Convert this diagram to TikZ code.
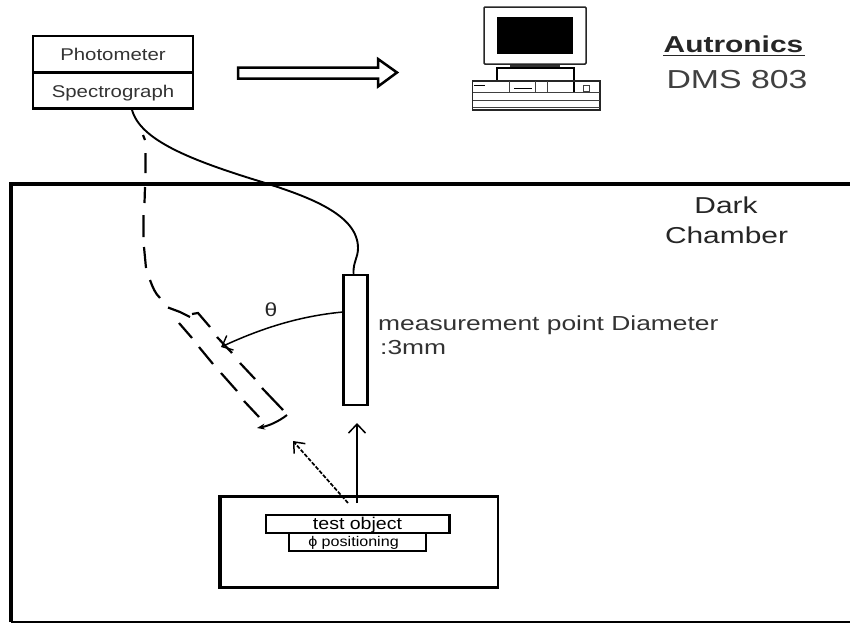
\documentclass[tikz,border=0pt]{standalone}
\usepackage{fontspec}
\setmainfont{Liberation Sans}
\newfontfamily\wideA[FakeStretch=1.2]{Liberation Sans}
\newfontfamily\wideB[FakeStretch=1.3]{Liberation Sans}
\newfontfamily\wideC[FakeStretch=1.15]{Liberation Sans}
\usetikzlibrary{arrows.meta}
\tikzset{
 unitbox/.style={draw,line width=2.5pt,fill=white,minimum width=160pt,minimum height=36pt,inner sep=0pt,text height=14.5pt,text depth=1.5pt,font=\wideA\fontsize{17}{18}\selectfont,text=black!80},
 cable/.style={line width=1.9pt},
 ghost/.style={line width=2.2pt},
 lbl/.style={inner sep=0pt,text=black!85},
 pc/.style={line width=.8pt,black!75},
 pointer/.style={line width=1.5pt,-{Straight Barb[length=9pt,width=16pt,line width=1.4pt]}}
}
\begin{document}
\begin{tikzpicture}[x=1pt,y=-1pt]
\useasboundingbox (0,0) rectangle (850,624);
\fill[white] (0,0) rectangle (850,624);
% chamber
\draw[line width=4.4pt] (11,622) -- (11,184) -- (850,184);
\draw[line width=2.6pt] (11,622) -- (850,622);
% instrument
\node[unitbox] (photo) at (113,54) {Photometer};
\node[unitbox] (spec) at (113,90.5) {Spectrograph};
% hollow arrow
\draw[line width=2.5pt,fill=white,line join=miter] (238,67.5) -- (378,67.5) -- (378,59) -- (397,72.5) -- (378,86.5) -- (378,78.5) -- (238,78.5) -- cycle;
% computer
\draw[line width=1.5pt,rounded corners=1pt,black!85] (484,7) rectangle (586,64);
\fill (497,17) rectangle (573,54);
\draw[line width=1.5pt] (497,81) -- (497,68) -- (574,68) -- (574,92);
\draw[line width=2.4pt,black!80] (510,66) -- (560,66);
\draw[line width=1.5pt,black!85] (472.5,81) rectangle (600,110);
\draw[pc] (473,92) -- (600,92) (473,100) -- (600,100) (473,107) -- (600,107);
\draw[pc] (509,81) -- (509,92) (535,81) -- (535,92) (547,81) -- (547,92);
\draw[line width=1pt] (514,88) -- (532,88);
\draw[pc] (583,85) rectangle (589,91);
\draw[line width=1pt] (474,85) -- (485,85);
% brand
\node[lbl,anchor=base] (brand) at (733.5,52) {\wideB\fontsize{23}{25}\selectfont\bfseries Autronics};
\draw[line width=1.8pt,black!85] (663,55.5) -- (805,55.5);
\node[lbl,anchor=base,text=black!75] (model) at (737,88) {\wideB\fontsize{26}{28}\selectfont DMS 803};
\node[lbl,anchor=base] (darkword) at (726,213) {\wideB\fontsize{23}{25}\selectfont Dark};
\node[lbl,anchor=base] (chamberword) at (726.5,243) {\wideB\fontsize{23}{25}\selectfont Chamber};
% probe
\node[draw,line width=2.5pt,fill=white,minimum width=24pt,minimum height=130pt,inner sep=0pt] (probe) at (355.5,340) {};
% cable
\draw[cable] ([xshift=19pt]spec.south) .. controls (140,140) and (190,160) .. (262,182) .. controls (310,197) and (358,215) .. (358,248) .. controls (358,258) and (353,262) .. ([xshift=-2pt]probe.north);
% ghost cable
\draw[ghost] (143,135) -- (145,140) (145.5,153) -- (145.5,173)
  (145,187) -- (144.5,203) (143.5,215) -- (143.5,237) (144,247) -- (146,268) (150,280) .. controls (153,288) and (155,293) .. (160,298);
% ghost probe
\draw[ghost] (168,307.5) -- (180,312) -- (190,317) (192,314) -- (198,313) -- (210,327)
  (217,337) -- (232,353) (240,363) -- (255,379) (262,388) -- (283,410)
  (179,323) -- (192,338) (199,347) -- (213,364) (221,373) -- (237,391) (244,401) -- (259,417);
\draw[line width=2pt,-{Stealth[length=8pt,width=6pt]}] (287,415) .. controls (278,422) and (268,426) .. (257,428);
% angle
\coordinate (angleStart) at (343,312);
\draw[pointer] (angleStart) .. controls (300,316) and (262,328) .. (221,347);
\node[lbl] (theta) at (271,310) {\wideA\fontsize{19}{20}\selectfont θ};
% label
\node[lbl,anchor=base west,text=black!80] (mp) at (378,330) {\wideB\fontsize{20.3}{22}\selectfont measurement point Diameter};
\node[lbl,anchor=base west,text=black!80] (mq) at (380,354) {\wideB\fontsize{20.3}{22}\selectfont :3mm};
% stage
\node[draw,line width=2.6pt,minimum width=277pt,minimum height=91pt,inner sep=0pt] (stage) at (359.5,542) {};
\draw[line width=4.2pt] (stage.north west) -- (stage.south west);
\node[draw,line width=1.8pt,fill=white,minimum width=183pt,minimum height=18pt,inner sep=0pt,text height=12pt,text depth=2pt] (obj) at (357.5,524) {\wideC\fontsize{17}{18}\selectfont test object};
\draw[line width=3pt] (obj.north east) -- (obj.south east);
\node[draw,line width=1.8pt,fill=white,minimum width=137pt,minimum height=18pt,inner sep=0pt,text height=11pt,text depth=3pt] (pos) at (357.5,542) {\wideC\fontsize{14}{15}\selectfont ϕ positioning\hspace*{8pt}};
% rays
\coordinate (rayA) at (357,503);
\coordinate (rayAtip) at (357,423);
\coordinate (rayB) at (348,503);
\coordinate (rayBtip) at (293,441);
\draw[line width=1.9pt,-{Straight Barb[length=9pt,width=17pt,line width=1.5pt]}] (rayA) -- (rayAtip);
\draw[line width=1.7pt,dash pattern=on 4pt off 1.6pt,-{Straight Barb[length=9pt,width=15pt,line width=1.5pt]}] (rayB) -- (rayBtip);
\end{tikzpicture}
\end{document}
